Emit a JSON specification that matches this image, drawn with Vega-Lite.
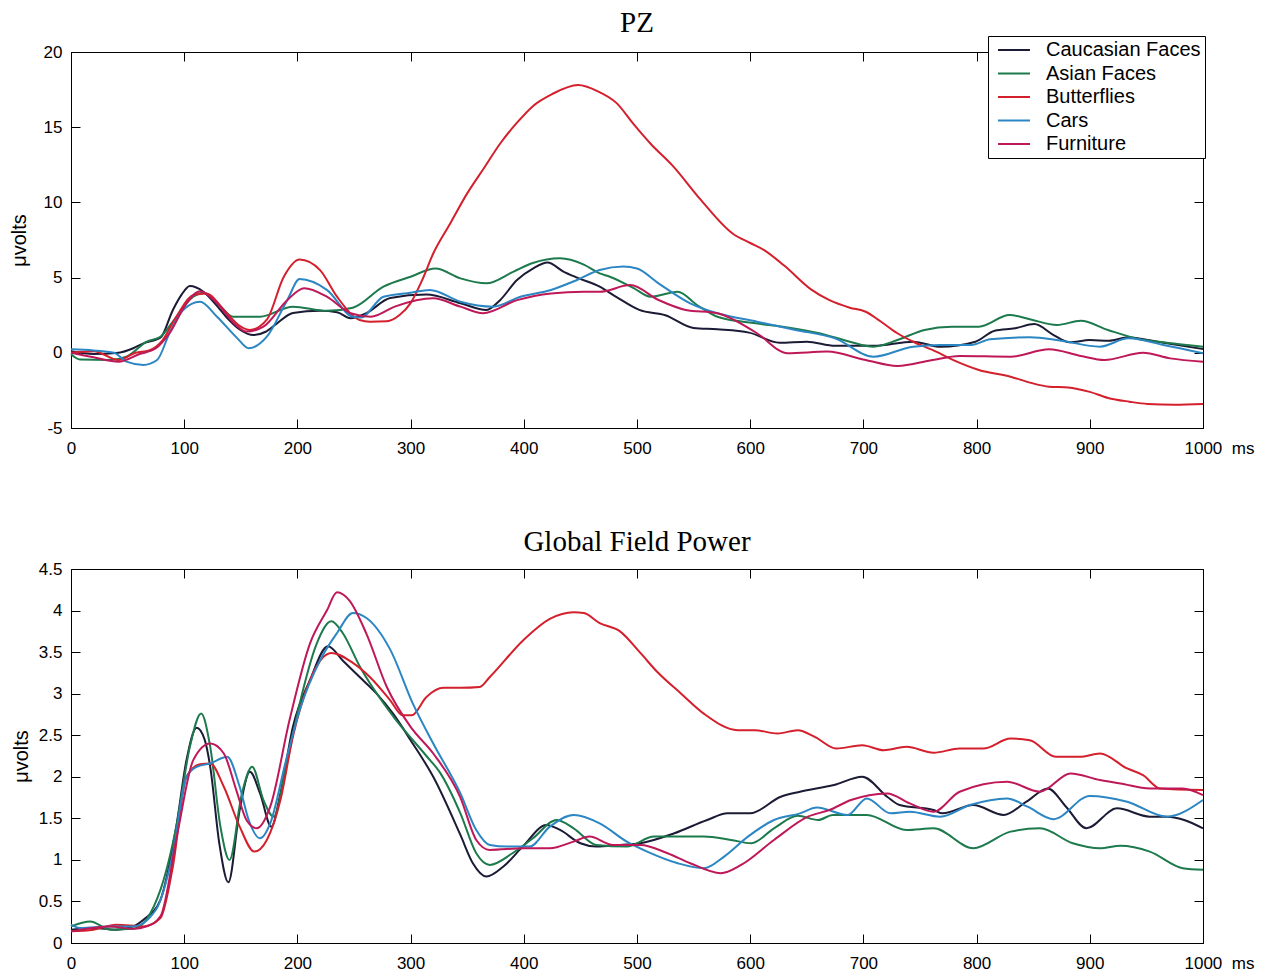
{
"$schema": "https://vega.github.io/schema/vega-lite/v6.json",
"padding": {"left": 8, "top": 8, "right": 5, "bottom": 2},
"background": "white",
"spacing": 70,
"config": {
  "view": {"stroke": "black", "strokeWidth": 1},
  "axis": {"grid": false, "domainColor": "black", "tickColor": "black", "labelColor": "black", "labelFont": "Liberation Sans", "labelFontSize": 17, "titleFont": "Liberation Sans", "titleFontSize": 20, "titleFontWeight": "normal", "titleColor": "black", "tickSize": -9, "tickWidth": 1},
  "title": {"font": "Liberation Serif", "fontSize": 29, "fontWeight": "normal", "color": "black"},
  "line": {"strokeWidth": 2, "interpolate": "monotone"}
},
"datasets": {
"pz": [
{"cond":"Caucasian Faces","ms":0,"uV":0.1},{"cond":"Caucasian Faces","ms":20,"uV":-0.08},{"cond":"Caucasian Faces","ms":42,"uV":0.0},{"cond":"Caucasian Faces","ms":55,"uV":0.3},{"cond":"Caucasian Faces","ms":64,"uV":0.63},{"cond":"Caucasian Faces","ms":79,"uV":1.0},{"cond":"Caucasian Faces","ms":90,"uV":2.85},{"cond":"Caucasian Faces","ms":98,"uV":3.9},{"cond":"Caucasian Faces","ms":105,"uV":4.44},{"cond":"Caucasian Faces","ms":117,"uV":4.06},{"cond":"Caucasian Faces","ms":128,"uV":3.2},{"cond":"Caucasian Faces","ms":137,"uV":2.4},{"cond":"Caucasian Faces","ms":150,"uV":1.5},{"cond":"Caucasian Faces","ms":161,"uV":1.18},{"cond":"Caucasian Faces","ms":172,"uV":1.4},{"cond":"Caucasian Faces","ms":182,"uV":1.96},{"cond":"Caucasian Faces","ms":196,"uV":2.64},{"cond":"Caucasian Faces","ms":220,"uV":2.8},{"cond":"Caucasian Faces","ms":235,"uV":2.7},{"cond":"Caucasian Faces","ms":247,"uV":2.3},{"cond":"Caucasian Faces","ms":260,"uV":2.6},{"cond":"Caucasian Faces","ms":282,"uV":3.64},{"cond":"Caucasian Faces","ms":314,"uV":3.87},{"cond":"Caucasian Faces","ms":344,"uV":3.3},{"cond":"Caucasian Faces","ms":367,"uV":2.85},{"cond":"Caucasian Faces","ms":379,"uV":3.5},{"cond":"Caucasian Faces","ms":394,"uV":4.84},{"cond":"Caucasian Faces","ms":408,"uV":5.6},{"cond":"Caucasian Faces","ms":421,"uV":6.0},{"cond":"Caucasian Faces","ms":435,"uV":5.4},{"cond":"Caucasian Faces","ms":447,"uV":5.0},{"cond":"Caucasian Faces","ms":467,"uV":4.4},{"cond":"Caucasian Faces","ms":482,"uV":3.7},{"cond":"Caucasian Faces","ms":502,"uV":2.85},{"cond":"Caucasian Faces","ms":525,"uV":2.5},{"cond":"Caucasian Faces","ms":550,"uV":1.65},{"cond":"Caucasian Faces","ms":571,"uV":1.56},{"cond":"Caucasian Faces","ms":599,"uV":1.34},{"cond":"Caucasian Faces","ms":626,"uV":0.67},{"cond":"Caucasian Faces","ms":650,"uV":0.74},{"cond":"Caucasian Faces","ms":675,"uV":0.47},{"cond":"Caucasian Faces","ms":709,"uV":0.47},{"cond":"Caucasian Faces","ms":744,"uV":0.74},{"cond":"Caucasian Faces","ms":768,"uV":0.4},{"cond":"Caucasian Faces","ms":799,"uV":0.74},{"cond":"Caucasian Faces","ms":816,"uV":1.47},{"cond":"Caucasian Faces","ms":834,"uV":1.63},{"cond":"Caucasian Faces","ms":851,"uV":1.91},{"cond":"Caucasian Faces","ms":868,"uV":1.18},{"cond":"Caucasian Faces","ms":882,"uV":0.7},{"cond":"Caucasian Faces","ms":900,"uV":0.85},{"cond":"Caucasian Faces","ms":917,"uV":0.8},{"cond":"Caucasian Faces","ms":934,"uV":1.03},{"cond":"Caucasian Faces","ms":951,"uV":0.85},{"cond":"Caucasian Faces","ms":968,"uV":0.63},{"cond":"Caucasian Faces","ms":1000,"uV":0.25},
{"cond":"Asian Faces","ms":0,"uV":-0.1},{"cond":"Asian Faces","ms":8,"uV":-0.45},{"cond":"Asian Faces","ms":34,"uV":-0.48},{"cond":"Asian Faces","ms":49,"uV":-0.26},{"cond":"Asian Faces","ms":67,"uV":0.74},{"cond":"Asian Faces","ms":79,"uV":1.07},{"cond":"Asian Faces","ms":90,"uV":2.07},{"cond":"Asian Faces","ms":108,"uV":3.73},{"cond":"Asian Faces","ms":117,"uV":4.0},{"cond":"Asian Faces","ms":131,"uV":3.18},{"cond":"Asian Faces","ms":143,"uV":2.4},{"cond":"Asian Faces","ms":167,"uV":2.4},{"cond":"Asian Faces","ms":196,"uV":3.07},{"cond":"Asian Faces","ms":226,"uV":2.79},{"cond":"Asian Faces","ms":249,"uV":3.0},{"cond":"Asian Faces","ms":276,"uV":4.4},{"cond":"Asian Faces","ms":300,"uV":5.06},{"cond":"Asian Faces","ms":322,"uV":5.6},{"cond":"Asian Faces","ms":344,"uV":4.95},{"cond":"Asian Faces","ms":367,"uV":4.62},{"cond":"Asian Faces","ms":391,"uV":5.4},{"cond":"Asian Faces","ms":408,"uV":5.97},{"cond":"Asian Faces","ms":432,"uV":6.28},{"cond":"Asian Faces","ms":453,"uV":5.86},{"cond":"Asian Faces","ms":467,"uV":5.28},{"cond":"Asian Faces","ms":476,"uV":5.06},{"cond":"Asian Faces","ms":497,"uV":4.3},{"cond":"Asian Faces","ms":512,"uV":3.73},{"cond":"Asian Faces","ms":536,"uV":4.06},{"cond":"Asian Faces","ms":553,"uV":3.18},{"cond":"Asian Faces","ms":571,"uV":2.4},{"cond":"Asian Faces","ms":605,"uV":1.96},{"cond":"Asian Faces","ms":633,"uV":1.69},{"cond":"Asian Faces","ms":661,"uV":1.3},{"cond":"Asian Faces","ms":688,"uV":0.74},{"cond":"Asian Faces","ms":709,"uV":0.41},{"cond":"Asian Faces","ms":730,"uV":0.85},{"cond":"Asian Faces","ms":754,"uV":1.52},{"cond":"Asian Faces","ms":778,"uV":1.74},{"cond":"Asian Faces","ms":802,"uV":1.74},{"cond":"Asian Faces","ms":829,"uV":2.51},{"cond":"Asian Faces","ms":847,"uV":2.23},{"cond":"Asian Faces","ms":871,"uV":1.85},{"cond":"Asian Faces","ms":892,"uV":2.13},{"cond":"Asian Faces","ms":916,"uV":1.52},{"cond":"Asian Faces","ms":944,"uV":0.9},{"cond":"Asian Faces","ms":968,"uV":0.67},{"cond":"Asian Faces","ms":1000,"uV":0.41},
{"cond":"Butterflies","ms":0,"uV":0.0},{"cond":"Butterflies","ms":20,"uV":0.1},{"cond":"Butterflies","ms":42,"uV":-0.48},{"cond":"Butterflies","ms":57,"uV":0.0},{"cond":"Butterflies","ms":69,"uV":0.16},{"cond":"Butterflies","ms":81,"uV":0.85},{"cond":"Butterflies","ms":93,"uV":2.4},{"cond":"Butterflies","ms":108,"uV":3.84},{"cond":"Butterflies","ms":120,"uV":3.95},{"cond":"Butterflies","ms":135,"uV":2.85},{"cond":"Butterflies","ms":150,"uV":1.74},{"cond":"Butterflies","ms":158,"uV":1.52},{"cond":"Butterflies","ms":173,"uV":2.2},{"cond":"Butterflies","ms":188,"uV":5.06},{"cond":"Butterflies","ms":202,"uV":6.2},{"cond":"Butterflies","ms":220,"uV":5.5},{"cond":"Butterflies","ms":235,"uV":3.73},{"cond":"Butterflies","ms":255,"uV":2.18},{"cond":"Butterflies","ms":264,"uV":2.07},{"cond":"Butterflies","ms":279,"uV":2.1},{"cond":"Butterflies","ms":290,"uV":2.5},{"cond":"Butterflies","ms":300,"uV":3.3},{"cond":"Butterflies","ms":310,"uV":4.8},{"cond":"Butterflies","ms":320,"uV":6.6},{"cond":"Butterflies","ms":335,"uV":8.6},{"cond":"Butterflies","ms":350,"uV":10.6},{"cond":"Butterflies","ms":365,"uV":12.3},{"cond":"Butterflies","ms":379,"uV":13.9},{"cond":"Butterflies","ms":394,"uV":15.3},{"cond":"Butterflies","ms":408,"uV":16.4},{"cond":"Butterflies","ms":425,"uV":17.2},{"cond":"Butterflies","ms":448,"uV":17.8},{"cond":"Butterflies","ms":465,"uV":17.4},{"cond":"Butterflies","ms":482,"uV":16.6},{"cond":"Butterflies","ms":497,"uV":15.2},{"cond":"Butterflies","ms":512,"uV":13.9},{"cond":"Butterflies","ms":532,"uV":12.4},{"cond":"Butterflies","ms":556,"uV":10.2},{"cond":"Butterflies","ms":585,"uV":7.9},{"cond":"Butterflies","ms":600,"uV":7.3},{"cond":"Butterflies","ms":612,"uV":6.84},{"cond":"Butterflies","ms":630,"uV":5.8},{"cond":"Butterflies","ms":654,"uV":4.2},{"cond":"Butterflies","ms":670,"uV":3.5},{"cond":"Butterflies","ms":688,"uV":3.0},{"cond":"Butterflies","ms":702,"uV":2.73},{"cond":"Butterflies","ms":715,"uV":2.1},{"cond":"Butterflies","ms":730,"uV":1.3},{"cond":"Butterflies","ms":745,"uV":0.7},{"cond":"Butterflies","ms":761,"uV":0.19},{"cond":"Butterflies","ms":780,"uV":-0.5},{"cond":"Butterflies","ms":802,"uV":-1.14},{"cond":"Butterflies","ms":830,"uV":-1.59},{"cond":"Butterflies","ms":848,"uV":-2.0},{"cond":"Butterflies","ms":864,"uV":-2.25},{"cond":"Butterflies","ms":881,"uV":-2.3},{"cond":"Butterflies","ms":900,"uV":-2.6},{"cond":"Butterflies","ms":916,"uV":-3.0},{"cond":"Butterflies","ms":935,"uV":-3.25},{"cond":"Butterflies","ms":951,"uV":-3.4},{"cond":"Butterflies","ms":975,"uV":-3.45},{"cond":"Butterflies","ms":1000,"uV":-3.4},
{"cond":"Cars","ms":0,"uV":0.23},{"cond":"Cars","ms":20,"uV":0.16},{"cond":"Cars","ms":38,"uV":0.0},{"cond":"Cars","ms":49,"uV":-0.59},{"cond":"Cars","ms":64,"uV":-0.81},{"cond":"Cars","ms":76,"uV":-0.48},{"cond":"Cars","ms":87,"uV":1.3},{"cond":"Cars","ms":99,"uV":2.85},{"cond":"Cars","ms":114,"uV":3.4},{"cond":"Cars","ms":129,"uV":2.4},{"cond":"Cars","ms":147,"uV":0.96},{"cond":"Cars","ms":157,"uV":0.3},{"cond":"Cars","ms":173,"uV":1.07},{"cond":"Cars","ms":191,"uV":3.5},{"cond":"Cars","ms":202,"uV":4.9},{"cond":"Cars","ms":226,"uV":4.18},{"cond":"Cars","ms":249,"uV":2.4},{"cond":"Cars","ms":256,"uV":2.35},{"cond":"Cars","ms":276,"uV":3.73},{"cond":"Cars","ms":300,"uV":4.0},{"cond":"Cars","ms":317,"uV":4.18},{"cond":"Cars","ms":344,"uV":3.4},{"cond":"Cars","ms":373,"uV":3.07},{"cond":"Cars","ms":397,"uV":3.73},{"cond":"Cars","ms":424,"uV":4.18},{"cond":"Cars","ms":447,"uV":4.84},{"cond":"Cars","ms":467,"uV":5.5},{"cond":"Cars","ms":488,"uV":5.73},{"cond":"Cars","ms":500,"uV":5.6},{"cond":"Cars","ms":519,"uV":4.62},{"cond":"Cars","ms":547,"uV":3.29},{"cond":"Cars","ms":571,"uV":2.63},{"cond":"Cars","ms":606,"uV":2.07},{"cond":"Cars","ms":640,"uV":1.52},{"cond":"Cars","ms":675,"uV":0.96},{"cond":"Cars","ms":709,"uV":-0.26},{"cond":"Cars","ms":744,"uV":0.41},{"cond":"Cars","ms":768,"uV":0.52},{"cond":"Cars","ms":795,"uV":0.52},{"cond":"Cars","ms":812,"uV":0.9},{"cond":"Cars","ms":847,"uV":1.03},{"cond":"Cars","ms":875,"uV":0.8},{"cond":"Cars","ms":909,"uV":0.41},{"cond":"Cars","ms":934,"uV":0.96},{"cond":"Cars","ms":965,"uV":0.52},{"cond":"Cars","ms":1000,"uV":-0.03},
{"cond":"Furniture","ms":0,"uV":0.0},{"cond":"Furniture","ms":20,"uV":-0.3},{"cond":"Furniture","ms":42,"uV":-0.59},{"cond":"Furniture","ms":60,"uV":-0.1},{"cond":"Furniture","ms":75,"uV":0.3},{"cond":"Furniture","ms":87,"uV":1.3},{"cond":"Furniture","ms":102,"uV":3.29},{"cond":"Furniture","ms":114,"uV":4.1},{"cond":"Furniture","ms":129,"uV":3.3},{"cond":"Furniture","ms":144,"uV":1.96},{"cond":"Furniture","ms":155,"uV":1.41},{"cond":"Furniture","ms":170,"uV":1.74},{"cond":"Furniture","ms":191,"uV":3.5},{"cond":"Furniture","ms":206,"uV":4.29},{"cond":"Furniture","ms":226,"uV":3.73},{"cond":"Furniture","ms":247,"uV":2.63},{"cond":"Furniture","ms":265,"uV":2.4},{"cond":"Furniture","ms":286,"uV":3.07},{"cond":"Furniture","ms":320,"uV":3.62},{"cond":"Furniture","ms":344,"uV":3.07},{"cond":"Furniture","ms":364,"uV":2.63},{"cond":"Furniture","ms":394,"uV":3.5},{"cond":"Furniture","ms":424,"uV":3.95},{"cond":"Furniture","ms":453,"uV":4.06},{"cond":"Furniture","ms":467,"uV":4.06},{"cond":"Furniture","ms":494,"uV":4.5},{"cond":"Furniture","ms":519,"uV":3.51},{"cond":"Furniture","ms":543,"uV":2.85},{"cond":"Furniture","ms":571,"uV":2.63},{"cond":"Furniture","ms":606,"uV":1.3},{"cond":"Furniture","ms":633,"uV":-0.03},{"cond":"Furniture","ms":668,"uV":0.08},{"cond":"Furniture","ms":702,"uV":-0.48},{"cond":"Furniture","ms":730,"uV":-0.88},{"cond":"Furniture","ms":761,"uV":-0.48},{"cond":"Furniture","ms":785,"uV":-0.21},{"cond":"Furniture","ms":830,"uV":-0.26},{"cond":"Furniture","ms":864,"uV":0.23},{"cond":"Furniture","ms":892,"uV":-0.21},{"cond":"Furniture","ms":913,"uV":-0.48},{"cond":"Furniture","ms":947,"uV":0.0},{"cond":"Furniture","ms":971,"uV":-0.37},{"cond":"Furniture","ms":1000,"uV":-0.59}
],
"gfp": [
{"cond":"Caucasian Faces","ms":0,"uV":0.16},{"cond":"Caucasian Faces","ms":20,"uV":0.18},{"cond":"Caucasian Faces","ms":40,"uV":0.16},{"cond":"Caucasian Faces","ms":55,"uV":0.2},{"cond":"Caucasian Faces","ms":64,"uV":0.28},{"cond":"Caucasian Faces","ms":79,"uV":0.52},{"cond":"Caucasian Faces","ms":93,"uV":1.4},{"cond":"Caucasian Faces","ms":102,"uV":2.2},{"cond":"Caucasian Faces","ms":111,"uV":2.59},{"cond":"Caucasian Faces","ms":118,"uV":2.45},{"cond":"Caucasian Faces","ms":123,"uV":2.12},{"cond":"Caucasian Faces","ms":131,"uV":1.2},{"cond":"Caucasian Faces","ms":139,"uV":0.73},{"cond":"Caucasian Faces","ms":149,"uV":1.6},{"cond":"Caucasian Faces","ms":158,"uV":2.06},{"cond":"Caucasian Faces","ms":167,"uV":1.8},{"cond":"Caucasian Faces","ms":177,"uV":1.4},{"cond":"Caucasian Faces","ms":185,"uV":1.8},{"cond":"Caucasian Faces","ms":196,"uV":2.6},{"cond":"Caucasian Faces","ms":211,"uV":3.16},{"cond":"Caucasian Faces","ms":227,"uV":3.57},{"cond":"Caucasian Faces","ms":240,"uV":3.4},{"cond":"Caucasian Faces","ms":255,"uV":3.2},{"cond":"Caucasian Faces","ms":270,"uV":3.0},{"cond":"Caucasian Faces","ms":285,"uV":2.75},{"cond":"Caucasian Faces","ms":300,"uV":2.44},{"cond":"Caucasian Faces","ms":320,"uV":2.0},{"cond":"Caucasian Faces","ms":344,"uV":1.3},{"cond":"Caucasian Faces","ms":355,"uV":0.96},{"cond":"Caucasian Faces","ms":367,"uV":0.8},{"cond":"Caucasian Faces","ms":382,"uV":0.92},{"cond":"Caucasian Faces","ms":399,"uV":1.16},{"cond":"Caucasian Faces","ms":420,"uV":1.42},{"cond":"Caucasian Faces","ms":432,"uV":1.36},{"cond":"Caucasian Faces","ms":450,"uV":1.2},{"cond":"Caucasian Faces","ms":464,"uV":1.16},{"cond":"Caucasian Faces","ms":485,"uV":1.18},{"cond":"Caucasian Faces","ms":503,"uV":1.2},{"cond":"Caucasian Faces","ms":533,"uV":1.32},{"cond":"Caucasian Faces","ms":562,"uV":1.48},{"cond":"Caucasian Faces","ms":580,"uV":1.56},{"cond":"Caucasian Faces","ms":600,"uV":1.56},{"cond":"Caucasian Faces","ms":627,"uV":1.76},{"cond":"Caucasian Faces","ms":644,"uV":1.82},{"cond":"Caucasian Faces","ms":674,"uV":1.9},{"cond":"Caucasian Faces","ms":699,"uV":2.0},{"cond":"Caucasian Faces","ms":721,"uV":1.76},{"cond":"Caucasian Faces","ms":732,"uV":1.66},{"cond":"Caucasian Faces","ms":762,"uV":1.6},{"cond":"Caucasian Faces","ms":770,"uV":1.56},{"cond":"Caucasian Faces","ms":797,"uV":1.66},{"cond":"Caucasian Faces","ms":824,"uV":1.54},{"cond":"Caucasian Faces","ms":844,"uV":1.7},{"cond":"Caucasian Faces","ms":863,"uV":1.86},{"cond":"Caucasian Faces","ms":879,"uV":1.64},{"cond":"Caucasian Faces","ms":897,"uV":1.38},{"cond":"Caucasian Faces","ms":924,"uV":1.62},{"cond":"Caucasian Faces","ms":953,"uV":1.52},{"cond":"Caucasian Faces","ms":968,"uV":1.52},{"cond":"Caucasian Faces","ms":1000,"uV":1.38},
{"cond":"Asian Faces","ms":0,"uV":0.2},{"cond":"Asian Faces","ms":17,"uV":0.26},{"cond":"Asian Faces","ms":35,"uV":0.16},{"cond":"Asian Faces","ms":55,"uV":0.17},{"cond":"Asian Faces","ms":79,"uV":0.64},{"cond":"Asian Faces","ms":93,"uV":1.4},{"cond":"Asian Faces","ms":105,"uV":2.36},{"cond":"Asian Faces","ms":115,"uV":2.76},{"cond":"Asian Faces","ms":123,"uV":2.36},{"cond":"Asian Faces","ms":132,"uV":1.4},{"cond":"Asian Faces","ms":140,"uV":1.0},{"cond":"Asian Faces","ms":151,"uV":1.8},{"cond":"Asian Faces","ms":160,"uV":2.12},{"cond":"Asian Faces","ms":170,"uV":1.72},{"cond":"Asian Faces","ms":179,"uV":1.52},{"cond":"Asian Faces","ms":190,"uV":2.12},{"cond":"Asian Faces","ms":202,"uV":2.88},{"cond":"Asian Faces","ms":217,"uV":3.6},{"cond":"Asian Faces","ms":230,"uV":3.87},{"cond":"Asian Faces","ms":240,"uV":3.73},{"cond":"Asian Faces","ms":255,"uV":3.33},{"cond":"Asian Faces","ms":285,"uV":2.72},{"cond":"Asian Faces","ms":314,"uV":2.25},{"cond":"Asian Faces","ms":326,"uV":2.05},{"cond":"Asian Faces","ms":344,"uV":1.56},{"cond":"Asian Faces","ms":358,"uV":1.08},{"cond":"Asian Faces","ms":370,"uV":0.94},{"cond":"Asian Faces","ms":390,"uV":1.08},{"cond":"Asian Faces","ms":408,"uV":1.26},{"cond":"Asian Faces","ms":429,"uV":1.48},{"cond":"Asian Faces","ms":444,"uV":1.38},{"cond":"Asian Faces","ms":464,"uV":1.18},{"cond":"Asian Faces","ms":491,"uV":1.16},{"cond":"Asian Faces","ms":515,"uV":1.28},{"cond":"Asian Faces","ms":533,"uV":1.28},{"cond":"Asian Faces","ms":559,"uV":1.28},{"cond":"Asian Faces","ms":583,"uV":1.24},{"cond":"Asian Faces","ms":601,"uV":1.2},{"cond":"Asian Faces","ms":621,"uV":1.38},{"cond":"Asian Faces","ms":642,"uV":1.53},{"cond":"Asian Faces","ms":660,"uV":1.48},{"cond":"Asian Faces","ms":673,"uV":1.54},{"cond":"Asian Faces","ms":703,"uV":1.54},{"cond":"Asian Faces","ms":738,"uV":1.36},{"cond":"Asian Faces","ms":762,"uV":1.38},{"cond":"Asian Faces","ms":797,"uV":1.14},{"cond":"Asian Faces","ms":830,"uV":1.34},{"cond":"Asian Faces","ms":856,"uV":1.38},{"cond":"Asian Faces","ms":885,"uV":1.2},{"cond":"Asian Faces","ms":909,"uV":1.14},{"cond":"Asian Faces","ms":927,"uV":1.17},{"cond":"Asian Faces","ms":953,"uV":1.1},{"cond":"Asian Faces","ms":982,"uV":0.9},{"cond":"Asian Faces","ms":1000,"uV":0.88},
{"cond":"Butterflies","ms":0,"uV":0.14},{"cond":"Butterflies","ms":20,"uV":0.16},{"cond":"Butterflies","ms":40,"uV":0.22},{"cond":"Butterflies","ms":64,"uV":0.2},{"cond":"Butterflies","ms":79,"uV":0.3},{"cond":"Butterflies","ms":90,"uV":0.92},{"cond":"Butterflies","ms":102,"uV":2.0},{"cond":"Butterflies","ms":114,"uV":2.15},{"cond":"Butterflies","ms":123,"uV":2.16},{"cond":"Butterflies","ms":135,"uV":1.88},{"cond":"Butterflies","ms":149,"uV":1.4},{"cond":"Butterflies","ms":162,"uV":1.1},{"cond":"Butterflies","ms":173,"uV":1.24},{"cond":"Butterflies","ms":185,"uV":1.72},{"cond":"Butterflies","ms":196,"uV":2.48},{"cond":"Butterflies","ms":211,"uV":3.16},{"cond":"Butterflies","ms":230,"uV":3.49},{"cond":"Butterflies","ms":249,"uV":3.37},{"cond":"Butterflies","ms":264,"uV":3.2},{"cond":"Butterflies","ms":282,"uV":2.92},{"cond":"Butterflies","ms":293,"uV":2.74},{"cond":"Butterflies","ms":301,"uV":2.74},{"cond":"Butterflies","ms":314,"uV":2.96},{"cond":"Butterflies","ms":329,"uV":3.07},{"cond":"Butterflies","ms":344,"uV":3.07},{"cond":"Butterflies","ms":361,"uV":3.08},{"cond":"Butterflies","ms":370,"uV":3.2},{"cond":"Butterflies","ms":400,"uV":3.65},{"cond":"Butterflies","ms":423,"uV":3.9},{"cond":"Butterflies","ms":444,"uV":3.98},{"cond":"Butterflies","ms":453,"uV":3.97},{"cond":"Butterflies","ms":467,"uV":3.85},{"cond":"Butterflies","ms":485,"uV":3.75},{"cond":"Butterflies","ms":503,"uV":3.49},{"cond":"Butterflies","ms":518,"uV":3.26},{"cond":"Butterflies","ms":539,"uV":3.0},{"cond":"Butterflies","ms":559,"uV":2.76},{"cond":"Butterflies","ms":589,"uV":2.56},{"cond":"Butterflies","ms":604,"uV":2.56},{"cond":"Butterflies","ms":624,"uV":2.52},{"cond":"Butterflies","ms":642,"uV":2.56},{"cond":"Butterflies","ms":657,"uV":2.48},{"cond":"Butterflies","ms":676,"uV":2.34},{"cond":"Butterflies","ms":699,"uV":2.38},{"cond":"Butterflies","ms":718,"uV":2.32},{"cond":"Butterflies","ms":738,"uV":2.36},{"cond":"Butterflies","ms":762,"uV":2.29},{"cond":"Butterflies","ms":785,"uV":2.34},{"cond":"Butterflies","ms":806,"uV":2.34},{"cond":"Butterflies","ms":830,"uV":2.46},{"cond":"Butterflies","ms":847,"uV":2.44},{"cond":"Butterflies","ms":870,"uV":2.24},{"cond":"Butterflies","ms":891,"uV":2.24},{"cond":"Butterflies","ms":909,"uV":2.28},{"cond":"Butterflies","ms":933,"uV":2.1},{"cond":"Butterflies","ms":947,"uV":2.02},{"cond":"Butterflies","ms":962,"uV":1.86},{"cond":"Butterflies","ms":1000,"uV":1.84},
{"cond":"Cars","ms":0,"uV":0.22},{"cond":"Cars","ms":8,"uV":0.18},{"cond":"Cars","ms":35,"uV":0.2},{"cond":"Cars","ms":55,"uV":0.2},{"cond":"Cars","ms":75,"uV":0.4},{"cond":"Cars","ms":90,"uV":1.08},{"cond":"Cars","ms":102,"uV":2.0},{"cond":"Cars","ms":111,"uV":2.12},{"cond":"Cars","ms":123,"uV":2.16},{"cond":"Cars","ms":138,"uV":2.24},{"cond":"Cars","ms":149,"uV":1.88},{"cond":"Cars","ms":157,"uV":1.48},{"cond":"Cars","ms":167,"uV":1.26},{"cond":"Cars","ms":176,"uV":1.44},{"cond":"Cars","ms":190,"uV":2.2},{"cond":"Cars","ms":202,"uV":2.8},{"cond":"Cars","ms":220,"uV":3.4},{"cond":"Cars","ms":235,"uV":3.73},{"cond":"Cars","ms":249,"uV":3.97},{"cond":"Cars","ms":261,"uV":3.91},{"cond":"Cars","ms":282,"uV":3.53},{"cond":"Cars","ms":302,"uV":2.88},{"cond":"Cars","ms":320,"uV":2.4},{"cond":"Cars","ms":344,"uV":1.8},{"cond":"Cars","ms":358,"uV":1.36},{"cond":"Cars","ms":370,"uV":1.18},{"cond":"Cars","ms":385,"uV":1.16},{"cond":"Cars","ms":405,"uV":1.16},{"cond":"Cars","ms":423,"uV":1.4},{"cond":"Cars","ms":444,"uV":1.54},{"cond":"Cars","ms":467,"uV":1.44},{"cond":"Cars","ms":491,"uV":1.22},{"cond":"Cars","ms":509,"uV":1.1},{"cond":"Cars","ms":536,"uV":0.96},{"cond":"Cars","ms":559,"uV":0.9},{"cond":"Cars","ms":577,"uV":1.04},{"cond":"Cars","ms":598,"uV":1.28},{"cond":"Cars","ms":621,"uV":1.48},{"cond":"Cars","ms":644,"uV":1.56},{"cond":"Cars","ms":659,"uV":1.63},{"cond":"Cars","ms":686,"uV":1.54},{"cond":"Cars","ms":703,"uV":1.74},{"cond":"Cars","ms":724,"uV":1.56},{"cond":"Cars","ms":741,"uV":1.58},{"cond":"Cars","ms":768,"uV":1.52},{"cond":"Cars","ms":794,"uV":1.66},{"cond":"Cars","ms":827,"uV":1.74},{"cond":"Cars","ms":845,"uV":1.64},{"cond":"Cars","ms":868,"uV":1.49},{"cond":"Cars","ms":900,"uV":1.77},{"cond":"Cars","ms":933,"uV":1.7},{"cond":"Cars","ms":968,"uV":1.52},{"cond":"Cars","ms":1000,"uV":1.72},
{"cond":"Furniture","ms":0,"uV":0.14},{"cond":"Furniture","ms":35,"uV":0.2},{"cond":"Furniture","ms":55,"uV":0.17},{"cond":"Furniture","ms":67,"uV":0.2},{"cond":"Furniture","ms":79,"uV":0.32},{"cond":"Furniture","ms":94,"uV":1.32},{"cond":"Furniture","ms":108,"uV":2.2},{"cond":"Furniture","ms":123,"uV":2.4},{"cond":"Furniture","ms":135,"uV":2.28},{"cond":"Furniture","ms":146,"uV":1.84},{"cond":"Furniture","ms":155,"uV":1.48},{"cond":"Furniture","ms":164,"uV":1.38},{"cond":"Furniture","ms":176,"uV":1.64},{"cond":"Furniture","ms":193,"uV":2.68},{"cond":"Furniture","ms":211,"uV":3.6},{"cond":"Furniture","ms":226,"uV":4.0},{"cond":"Furniture","ms":235,"uV":4.22},{"cond":"Furniture","ms":246,"uV":4.12},{"cond":"Furniture","ms":261,"uV":3.72},{"cond":"Furniture","ms":279,"uV":3.08},{"cond":"Furniture","ms":300,"uV":2.6},{"cond":"Furniture","ms":320,"uV":2.28},{"cond":"Furniture","ms":344,"uV":1.75},{"cond":"Furniture","ms":358,"uV":1.24},{"cond":"Furniture","ms":370,"uV":1.12},{"cond":"Furniture","ms":400,"uV":1.14},{"cond":"Furniture","ms":423,"uV":1.14},{"cond":"Furniture","ms":444,"uV":1.22},{"cond":"Furniture","ms":458,"uV":1.28},{"cond":"Furniture","ms":479,"uV":1.18},{"cond":"Furniture","ms":503,"uV":1.18},{"cond":"Furniture","ms":527,"uV":1.08},{"cond":"Furniture","ms":547,"uV":0.96},{"cond":"Furniture","ms":574,"uV":0.84},{"cond":"Furniture","ms":592,"uV":0.94},{"cond":"Furniture","ms":621,"uV":1.24},{"cond":"Furniture","ms":651,"uV":1.52},{"cond":"Furniture","ms":670,"uV":1.6},{"cond":"Furniture","ms":689,"uV":1.72},{"cond":"Furniture","ms":721,"uV":1.8},{"cond":"Furniture","ms":741,"uV":1.68},{"cond":"Furniture","ms":762,"uV":1.58},{"cond":"Furniture","ms":785,"uV":1.82},{"cond":"Furniture","ms":827,"uV":1.94},{"cond":"Furniture","ms":856,"uV":1.82},{"cond":"Furniture","ms":883,"uV":2.04},{"cond":"Furniture","ms":909,"uV":1.96},{"cond":"Furniture","ms":927,"uV":1.92},{"cond":"Furniture","ms":953,"uV":1.86},{"cond":"Furniture","ms":982,"uV":1.86},{"cond":"Furniture","ms":1000,"uV":1.78}
]
},
"vconcat": [
{
  "width": 1132, "height": 376,
  "title": {"text": "PZ", "offset": -2},
  "data": {"name": "pz"},
  "layer": [
    {
      "mark": {"type": "line"},
      "encoding": {
        "x": {"field": "ms", "type": "quantitative", "scale": {"domain": [0, 1000], "nice": false, "zero": false},
              "axis": {"orient": "bottom", "title": null, "values": [0,100,200,300,400,500,600,700,800,900,1000], "labelPadding": 21,
                       "labelExpr": "datum.value == 1000 ? '1000\u00a0\u00a0ms' : datum.label",
                       "labelAlign": {"condition": {"test": "datum.value == 1000", "value": "left"}, "value": "center"},
                       "labelOffset": {"condition": {"test": "datum.value == 1000", "value": -19}, "value": 0}}},
        "y": {"field": "uV", "type": "quantitative", "scale": {"domain": [-5, 20], "nice": false, "zero": false},
              "axis": {"orient": "left", "title": "μvolts", "values": [-5,0,5,10,15,20], "labelPadding": 18, "titlePadding": 14,
                       "labelExpr": "datum.value < 0 ? '-' + abs(datum.value) : datum.label"}},
        "color": {"field": "cond", "type": "nominal",
                  "scale": {"domain": ["Caucasian Faces","Asian Faces","Butterflies","Cars","Furniture"], "range": ["#1b1b36","#1c7a4c","#d3202c","#2b86c3","#bf1858"]},
                  "legend": {"title": null, "orient": "none", "legendX": 917, "legendY": -16, "strokeColor": "black", "fillColor": "white", "padding": 4,
                             "labelFont": "Liberation Sans", "labelFontSize": 20, "labelColor": "black", "labelOffset": 22,
                             "labelExpr": "datum.label + '\u00a0\u00a0'",
                             "symbolType": "M-4,0H4", "symbolSize": 64, "symbolStrokeWidth": 2, "symbolOffset": 12, "rowPadding": 3.5}}
      }
    },
    {
      "mark": {"type": "line", "opacity": 0},
      "encoding": {
        "x": {"field": "ms", "type": "quantitative", "axis": {"orient": "top", "title": null, "labels": false, "values": [100,200,300,400,500,600,700,800,900]}},
        "y": {"field": "uV", "type": "quantitative", "axis": {"orient": "right", "title": null, "labels": false, "values": [0,5,10,15]}},
        "detail": {"field": "cond"}
      }
    }
  ],
  "resolve": {"axis": {"x": "independent", "y": "independent"}}
},
{
  "width": 1132, "height": 374,
  "title": {"text": "Global Field Power", "offset": 3},
  "data": {"name": "gfp"},
  "layer": [
    {
      "mark": {"type": "line"},
      "encoding": {
        "x": {"field": "ms", "type": "quantitative", "scale": {"domain": [0, 1000], "nice": false, "zero": false},
              "axis": {"orient": "bottom", "title": null, "values": [0,100,200,300,400,500,600,700,800,900,1000], "labelPadding": 21,
                       "labelExpr": "datum.value == 1000 ? '1000\u00a0\u00a0ms' : datum.label",
                       "labelAlign": {"condition": {"test": "datum.value == 1000", "value": "left"}, "value": "center"},
                       "labelOffset": {"condition": {"test": "datum.value == 1000", "value": -19}, "value": 0}}},
        "y": {"field": "uV", "type": "quantitative", "scale": {"domain": [0, 4.5], "nice": false, "zero": false},
              "axis": {"orient": "left", "title": "μvolts", "values": [0,0.5,1,1.5,2,2.5,3,3.5,4,4.5], "format": "~g", "labelPadding": 18, "titlePadding": 7}},
        "color": {"field": "cond", "type": "nominal",
                  "scale": {"domain": ["Caucasian Faces","Asian Faces","Butterflies","Cars","Furniture"], "range": ["#1b1b36","#1c7a4c","#d3202c","#2b86c3","#bf1858"]},
                  "legend": null}
      }
    },
    {
      "mark": {"type": "line", "opacity": 0},
      "encoding": {
        "x": {"field": "ms", "type": "quantitative", "axis": {"orient": "top", "title": null, "labels": false, "values": [100,200,300,400,500,600,700,800,900]}},
        "y": {"field": "uV", "type": "quantitative", "axis": {"orient": "right", "title": null, "labels": false, "values": [0.5,1,1.5,2,2.5,3,3.5,4]}},
        "detail": {"field": "cond"}
      }
    }
  ],
  "resolve": {"axis": {"x": "independent", "y": "independent"}}
}
],
"resolve": {"scale": {"color": "independent"}, "legend": {"color": "independent"}}
}
